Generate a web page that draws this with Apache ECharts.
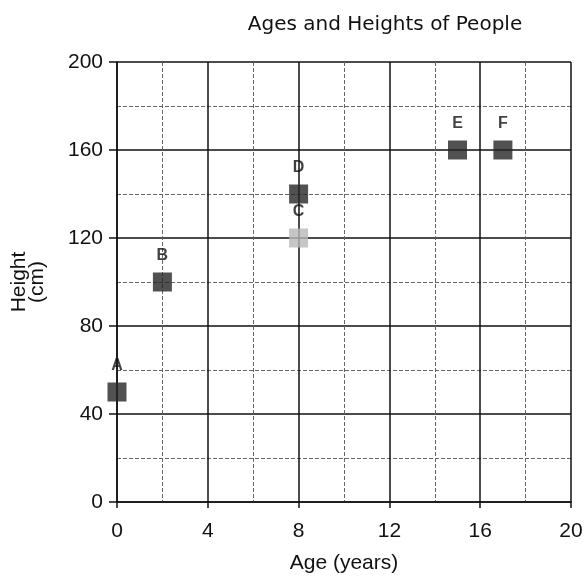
<html>
<head>
<style>
  body,html{margin:0;padding:0;background:#fff;}
  #chart{width:585px;height:577px;}
</style>
<script src="https://cdn.jsdelivr.net/npm/echarts@6/dist/echarts.min.js"></script>
</head>
<body>
<div id="chart"></div>
<script>
  // people: name, age, height
  var names = ["A", "B", "C", "D", "E", "F"];
  var ages = [0, 2, 8, 8, 15, 17];
  var heights = [50, 100, 120, 140, 160, 160];
  var colors = ["#262626", "#262626", "#b8b8b8", "#262626", "#262626", "#262626"];

  var points = [];
  for (var i = 0; i < names.length; i++) {
    points.push({
      value: [ages[i], heights[i]],
      name: names[i],
      itemStyle: { color: colors[i] }
    });
  }

  var chart = echarts.init(document.getElementById("chart"));
  chart.setOption({
    animation: false,
    title: {
      text: "Ages and Heights of People",
      left: 380, top: 0, textAlign: "center",
      textStyle: { fontFamily: "DejaVu Sans", fontSize: 20, fontWeight: "normal", color: "#111" }
    },
    grid: { left: 117, right: 14, top: 62, bottom: 75, containLabel: false, outerBoundsMode: "none" },
    xAxis: {
      type: "value", min: 0, max: 20, interval: 4,
      name: "Age (years)", nameLocation: "middle", nameGap: 43, nameMoveOverlap: false,
      nameTextStyle: { fontFamily: "Liberation Sans", fontSize: 21, color: "#111" },
      axisLine: { show: true, lineStyle: { color: "#111", width: 1.5 } },
      axisTick: { show: true, length: 6, lineStyle: { color: "#111", width: 1.5 } },
      axisLabel: { fontFamily: "Liberation Sans", fontSize: 21, color: "#111", margin: 11 },
      splitLine: { show: true, lineStyle: { color: "#111", width: 1.5 } },
      minorTick: { show: false, splitNumber: 2 },
      minorSplitLine: { show: true, lineStyle: { color: "#666", width: 1, type: [4, 2] } }
    },
    yAxis: {
      type: "value", min: 0, max: 200, interval: 40,
      name: "Height\n(cm)", nameLocation: "middle", nameGap: 71, nameRotate: 90, nameMoveOverlap: false,
      nameTextStyle: { fontFamily: "Liberation Sans", fontSize: 21, color: "#111", lineHeight: 18 },
      axisLine: { show: true, lineStyle: { color: "#111", width: 1.5 } },
      axisTick: { show: true, length: 8, lineStyle: { color: "#111", width: 1.5 } },
      axisLabel: { fontFamily: "Liberation Sans", fontSize: 21, color: "#111", margin: 14 },
      splitLine: { show: true, lineStyle: { color: "#111", width: 1.5 } },
      minorTick: { show: false, splitNumber: 2 },
      minorSplitLine: { show: true, lineStyle: { color: "#666", width: 1, type: [4, 2] } }
    },
    series: [{
      type: "scatter",
      symbol: "rect",
      symbolSize: 19,
      data: points,
      label: {
        show: true, position: "top", distance: 3,
        formatter: "{b}",
        fontFamily: "Liberation Sans", fontSize: 16, fontWeight: "bold", color: "#111"
      }
    }]
  });
</script>
</body>
</html>
